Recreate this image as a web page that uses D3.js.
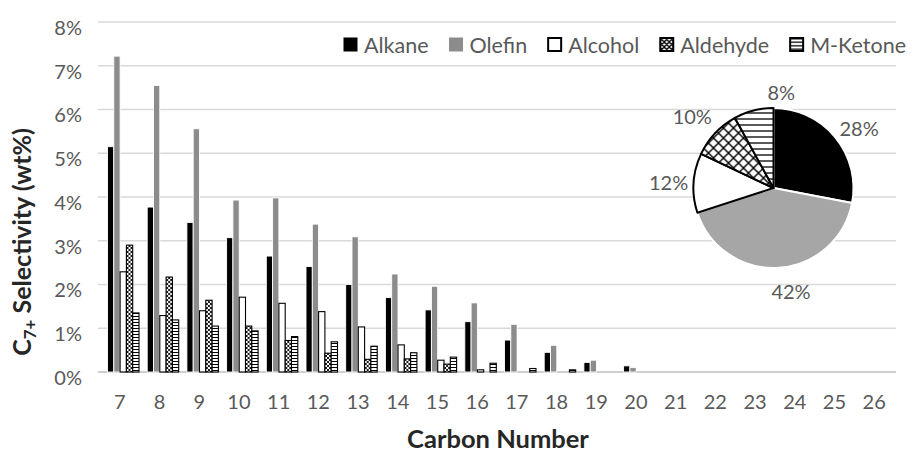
<!DOCTYPE html>
<html>
<head>
<meta charset="utf-8">
<script src="https://cdn.jsdelivr.net/npm/d3@7"></script>
<style>
  html, body { margin: 0; padding: 0; background: #fff; }
  svg { display: block; font-family: Lato, "Open Sans", sans-serif; }
</style>
</head>
<body>
<svg id="chart" width="913" height="453"></svg>
<script>
// ---- data ----
const carbons = [7, 8, 9, 10, 11, 12, 13, 14, 15, 16, 17, 18, 19, 20, 21, 22, 23, 24, 25, 26];
const seriesNames = ["Alkane", "Olefin", "Alcohol", "Aldehyde", "M-Ketone"];
const alkane   = [5.15, 3.77, 3.42, 3.07, 2.65, 2.41, 2.00, 1.70, 1.42, 1.15, 0.73, 0.45, 0.22, 0.14, 0, 0, 0, 0, 0, 0];
const olefin   = [7.22, 6.55, 5.56, 3.93, 3.98, 3.38, 3.09, 2.24, 1.96, 1.58, 1.09, 0.61, 0.27, 0.10, 0, 0, 0, 0, 0, 0];
const alcohol  = [2.29, 1.29, 1.40, 1.71, 1.57, 1.38, 1.03, 0.62, 0.27, 0.05, 0, 0, 0, 0, 0, 0, 0, 0, 0, 0];
const aldehyde = [2.90, 2.17, 1.64, 1.05, 0.72, 0.43, 0.29, 0.30, 0.18, 0, 0, 0, 0, 0, 0, 0, 0, 0, 0, 0];
const ketone   = [1.35, 1.19, 1.05, 0.94, 0.81, 0.69, 0.59, 0.44, 0.34, 0.20, 0.08, 0.05, 0, 0, 0, 0, 0, 0, 0, 0];
const yTicks = [0, 1, 2, 3, 4, 5, 6, 7, 8];
const pieValues = [28, 42, 12, 10, 8];
const pieLabels = ["28%", "42%", "12%", "10%", "8%"];

// ---- layout / style ----
const plot = { left: 100, right: 894, top: 22, bottom: 372 };
const textGray = "#595959";
const gridColor = "#d9d9d9";

const svg = d3.select("#chart");
const defs = svg.append("defs");

function hatchPattern(id, size, strokeW, bg) {
  const p = defs.append("pattern").attr("id", id).attr("patternUnits", "userSpaceOnUse")
    .attr("width", size).attr("height", size);
  p.append("rect").attr("width", size).attr("height", size).attr("fill", bg);
  p.append("path").attr("d", `M0,0L${size},${size}M${size},0L0,${size}M-1,1L1,-1M${size-1},${size+1}L${size+1},${size-1}`)
    .attr("stroke", "#000").attr("stroke-width", strokeW);
}
function linePattern(id, size, strokeW) {
  const p = defs.append("pattern").attr("id", id).attr("patternUnits", "userSpaceOnUse")
    .attr("width", size).attr("height", size);
  p.append("rect").attr("width", size).attr("height", size).attr("fill", "#fff");
  p.append("line").attr("x1", 0).attr("x2", size).attr("y1", size / 2).attr("y2", size / 2)
    .attr("stroke", "#000").attr("stroke-width", strokeW);
}
hatchPattern("xBar", 4, 0.9, "#fff");
linePattern("hBar", 3, 1);
hatchPattern("xPie", 10, 1.4, "#fff");
linePattern("hPie", 6, 1.3);
hatchPattern("xLeg", 5, 1.3, "#fff");
linePattern("hLeg", 3.5, 1.3);

const barStyle = [
  { fill: "#000000", stroke: "#ffffff", sw: 0.9 },
  { fill: "#8c8c8c", stroke: "#ffffff", sw: 0.9 },
  { fill: "#ffffff", stroke: "#000000", sw: 1.1 },
  { fill: "url(#xBar)", stroke: "#000000", sw: 1.1 },
  { fill: "url(#hBar)", stroke: "#000000", sw: 1.1 }
];
const legendStyle = [
  { fill: "#000000", stroke: "#000000", sw: 1 },
  { fill: "#8c8c8c", stroke: "#8c8c8c", sw: 1 },
  { fill: "#ffffff", stroke: "#000000", sw: 2 },
  { fill: "url(#xLeg)", stroke: "#000000", sw: 2 },
  { fill: "url(#hLeg)", stroke: "#000000", sw: 2 }
];
const pieStyle = [
  { fill: "#000000", stroke: "#ffffff", sw: 2 },
  { fill: "#a6a6a6", stroke: "#ffffff", sw: 2 },
  { fill: "#ffffff", stroke: "#000000", sw: 2 },
  { fill: "url(#xPie)", stroke: "#000000", sw: 2 },
  { fill: "url(#hPie)", stroke: "#000000", sw: 2 }
];

// ---- scales ----
const x0 = d3.scaleBand().domain(carbons).range([plot.left, plot.right]);
const groupOffset = 7.5, groupWidth = 31.5;
const x1 = d3.scaleBand().domain(seriesNames).range([0, groupWidth]);
const y = d3.scaleLinear().domain([0, 8]).range([plot.bottom, plot.top]);

// ---- gridlines ----
svg.append("g").selectAll("line").data(yTicks).join("line")
  .attr("x1", plot.left - 2).attr("x2", plot.right + 2)
  .attr("y1", d => y(d)).attr("y2", d => y(d))
  .attr("stroke", d => d === 0 ? "#bfbfbf" : gridColor).attr("stroke-width", 1.5);

// ---- y axis labels ----
const yAxis = d3.axisLeft(y).tickValues(yTicks).tickFormat(d => d + "%").tickSize(0).tickPadding(0);
const gy = svg.append("g").attr("transform", `translate(82,0)`).call(yAxis);
gy.select(".domain").remove();
gy.selectAll("text").attr("fill", textGray).attr("font-size", 20).attr("dy", "0.62em")
  .attr("font-family", "Lato, sans-serif");

// ---- x axis labels ----
const xAxis = d3.axisBottom(x0).tickSize(0).tickPadding(0);
const gx = svg.append("g").attr("transform", `translate(0,395)`).call(xAxis);
gx.select(".domain").remove();
gx.selectAll("text").attr("fill", textGray).attr("font-size", 20).attr("dy", "0.72em")
  .attr("font-family", "Lato, sans-serif");

// ---- bars ----
const seriesData = [alkane, olefin, alcohol, aldehyde, ketone];
const groups = svg.append("g").selectAll("g").data(carbons).join("g")
  .attr("transform", c => `translate(${x0(c) + groupOffset},0)`);
groups.selectAll("rect")
  .data((c, i) => seriesNames.map((s, k) => ({ s, k, v: seriesData[k][i] })).filter(d => d.v > 0))
  .join("rect")
  .attr("x", d => x1(d.s)).attr("width", x1.bandwidth())
  .attr("y", d => y(d.v)).attr("height", d => y(0) - y(d.v))
  .attr("fill", d => barStyle[d.k].fill)
  .attr("stroke", d => barStyle[d.k].stroke)
  .attr("stroke-width", d => barStyle[d.k].sw);

// ---- legend (spread between left and right anchors) ----
const legendLeft = 343, legendRight = 906;
const legend = svg.append("g").attr("transform", `translate(${legendLeft},37)`);
const items = seriesNames.map((name, k) => {
  const g = legend.append("g");
  g.append("rect").attr("x", 1).attr("y", 1).attr("width", 13).attr("height", 13)
    .attr("fill", legendStyle[k].fill).attr("stroke", legendStyle[k].stroke)
    .attr("stroke-width", legendStyle[k].sw);
  const t = g.append("text").attr("x", 21).attr("y", 15.5).attr("font-size", 21.5)
    .attr("fill", textGray).text(name);
  return { g, w: 21 + t.node().getComputedTextLength() };
});
const totalW = d3.sum(items, d => d.w);
const gap = (legendRight - legendLeft - totalW) / (items.length - 1);
let lx = 0;
items.forEach(it => { it.g.attr("transform", `translate(${lx},0)`); lx += it.w + gap; });

// ---- axis titles ----
svg.append("text").attr("x", 498).attr("y", 448).attr("text-anchor", "middle")
  .attr("font-size", 25.5).attr("font-weight", "bold").attr("fill", "#262626")
  .text("Carbon Number");

const yt = svg.append("text").attr("transform", "translate(31,242) rotate(-90)")
  .attr("text-anchor", "middle").attr("font-size", 25).attr("font-weight", "bold").attr("fill", "#262626");
yt.append("tspan").text("C");
yt.append("tspan").attr("font-size", 17).attr("dy", 5).text("7+");
yt.append("tspan").attr("dy", -5).text(" Selectivity (wt%)");

// ---- pie ----
const pieCenter = [773.5, 188], R = 80;
const pie = d3.pie().sort(null).value(d => d)(pieValues);
const arc = d3.arc().innerRadius(0).outerRadius(R);
const pg = svg.append("g").attr("transform", `translate(${pieCenter[0]},${pieCenter[1]})`);
pg.selectAll("path").data(pie).join("path")
  .attr("d", arc)
  .attr("fill", (d, i) => pieStyle[i].fill)
  .attr("stroke", (d, i) => pieStyle[i].stroke)
  .attr("stroke-width", (d, i) => pieStyle[i].sw)
  .attr("stroke-linejoin", "round");

const labelNudgeDeg = [5, -6, -1, -2, 19];
const labelRadius = [104, 105, 105, 108, 96];
pg.selectAll("text").data(pie).join("text")
  .attr("x", (d, i) => {
    const a = (d.startAngle + d.endAngle) / 2 + labelNudgeDeg[i] * Math.PI / 180;
    return Math.sin(a) * labelRadius[i];
  })
  .attr("y", (d, i) => {
    const a = (d.startAngle + d.endAngle) / 2 + labelNudgeDeg[i] * Math.PI / 180;
    return -Math.cos(a) * labelRadius[i];
  })
  .attr("dy", "0.36em").attr("text-anchor", "middle")
  .attr("font-size", 20).attr("fill", textGray)
  .text((d, i) => pieLabels[i]);
</script>
</body>
</html>
